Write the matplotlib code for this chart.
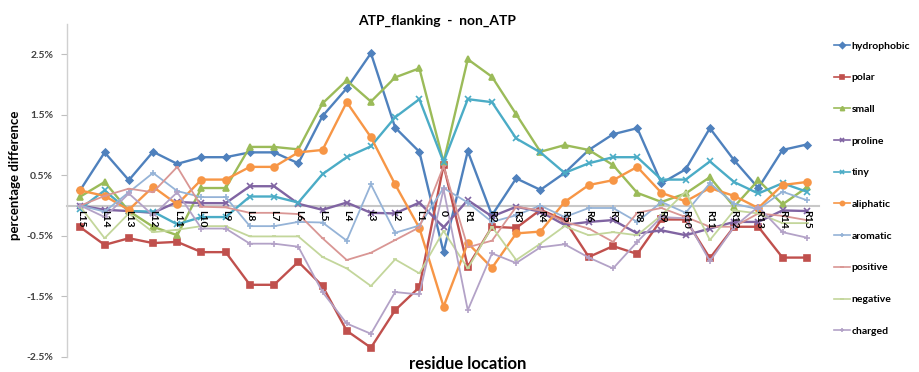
import matplotlib
matplotlib.use("Agg")
import matplotlib.pyplot as plt
from matplotlib.ticker import FuncFormatter

positions = ["L15", "L14", "L13", "L12", "L11", "L10", "L9", "L8", "L7", "L6", "L5", "L4", "L3", "L2", "L1",
             "0", "R1", "R2", "R3", "R4", "R5", "R6", "R7", "R8", "R9", "R10", "R11", "R12", "R13", "R14", "R15"]

hydrophobic = [0.26, 0.88, 0.42, 0.89, 0.69, 0.80, 0.80, 0.88, 0.88, 0.70, 1.48, 1.94, 2.52, 1.29, 0.89,
               -0.77, 0.90, -0.16, 0.45, 0.26, 0.54, 0.92, 1.18, 1.28, 0.37, 0.60, 1.28, 0.75, 0.29, 0.92, 1.01]
polar = [-0.36, -0.65, -0.54, -0.62, -0.60, -0.77, -0.77, -1.31, -1.31, -0.93, -1.33, -2.07, -2.35, -1.73, -1.35,
         0.67, -1.01, -0.35, -0.37, -0.07, -0.24, -0.85, -0.67, -0.80, -0.23, -0.23, -0.87, -0.35, -0.35, -0.86, -0.86]
small = [0.15, 0.39, -0.09, -0.35, -0.49, 0.29, 0.29, 0.97, 0.97, 0.93, 1.69, 2.07, 1.72, 2.12, 2.27,
         0.72, 2.42, 2.13, 1.51, 0.89, 1.00, 0.92, 0.67, 0.21, 0.06, 0.20, 0.47, -0.02, 0.42, 0.02, 0.30]
proline = [0.0, -0.07, -0.09, -0.12, 0.06, 0.04, 0.04, 0.32, 0.32, 0.03, -0.07, 0.05, -0.12, -0.13, 0.05,
           -0.36, 0.09, -0.18, -0.02, -0.10, -0.32, -0.27, -0.24, -0.46, -0.41, -0.49, -0.38, -0.27, -0.27, -0.08, -0.09]
tiny = [-0.05, 0.25, -0.09, -0.10, -0.31, -0.19, -0.19, 0.15, 0.15, 0.05, 0.52, 0.80, 0.98, 1.46, 1.76,
        0.72, 1.76, 1.71, 1.11, 0.88, 0.54, 0.70, 0.80, 0.80, 0.43, 0.43, 0.73, 0.39, 0.20, 0.37, 0.23]
aliphatic = [0.25, 0.16, -0.07, 0.31, 0.02, 0.43, 0.43, 0.64, 0.64, 0.88, 0.92, 1.71, 1.13, 0.35, -0.37,
             -1.67, -0.62, -1.03, -0.46, -0.43, 0.06, 0.34, 0.42, 0.64, 0.21, 0.07, 0.29, 0.16, -0.04, 0.34, 0.39]
aromatic = [0.0, -0.10, 0.22, 0.54, 0.24, 0.14, 0.14, -0.34, -0.34, -0.27, -0.28, -0.58, 0.35, -0.45, -0.33,
            0.29, 0.05, -0.27, -0.16, 0.0, -0.19, -0.04, -0.04, -0.27, 0.06, -0.12, 0.37, 0.03, -0.06, 0.23, 0.09]
positive = [0.0, 0.16, 0.28, 0.22, 0.64, -0.02, -0.03, -0.12, -0.12, -0.14, -0.54, -0.90, -0.78, -0.57, -0.36,
            0.65, -0.69, -0.58, -0.02, -0.08, -0.27, -0.38, -0.60, -0.12, -0.04, -0.19, -0.35, -0.35, -0.13, -0.17, -0.24]
negative = [-0.02, -0.54, -0.13, -0.44, -0.40, -0.34, -0.34, -0.51, -0.51, -0.51, -0.85, -1.04, -1.33, -0.89, -1.12,
            -0.42, -1.04, -0.35, -0.90, -0.63, -0.34, -0.49, -0.44, -0.49, -0.16, 0.23, -0.57, -0.08, -0.13, -0.29, -0.29]
charged = [0.0, -0.19, 0.20, -0.16, 0.22, -0.38, -0.38, -0.63, -0.63, -0.68, -1.43, -1.95, -2.12, -1.43, -1.47,
           0.27, -1.73, -0.79, -0.95, -0.69, -0.64, -0.86, -1.04, -0.60, -0.19, -0.21, -0.92, -0.35, -0.02, -0.44, -0.53]

series_names = ["hydrophobic", "polar", "small", "proline", "tiny", "aliphatic",
                "aromatic", "positive", "negative", "charged"]
series_values = [hydrophobic, polar, small, proline, tiny, aliphatic,
                 aromatic, positive, negative, charged]
y_ticks = [-2.5, -1.5, -0.5, 0.5, 1.5, 2.5]

colors = ["#4F81BD", "#C0504D", "#9BBB59", "#8064A2", "#4BACC6", "#F79646",
          "#95B3D7", "#D99694", "#C3D69B", "#B3A2C7"]
markers = ["D", "s", "^", "x", "x", "o", "+", "_", "_", "+"]
msizes = [3.5, 4.5, 4.5, 4, 4, 5, 4, 3, 3, 4]
lws = [1.7, 1.7, 1.7, 1.7, 1.7, 1.7, 1.3, 1.3, 1.3, 1.3]

plt.rcParams['font.family'] = ['Lato', 'DejaVu Sans']
plt.rcParams['font.weight'] = 'bold'

fig = plt.figure(figsize=(9.19, 3.72), dpi=100)
ax = fig.add_axes([0.073, 0.041, 0.818, 0.894])

x = list(range(len(positions)))
for name, vals, c, m, ms, lw in zip(series_names, series_values, colors, markers, msizes, lws):
    ax.plot(x, vals, color=c, marker=m, markersize=ms, linewidth=lw, label=name,
            markeredgewidth=1.2, zorder=3)

ax.set_xlim(-0.55, 30.5)
ax.set_ylim(-2.5, 3.0)
ax.set_yticks(y_ticks)
ax.yaxis.set_major_formatter(FuncFormatter(lambda v, p: f"{v:.1f}%"))
ax.tick_params(axis='y', labelsize=7.5, length=4, color="#BFBFBF", pad=6, labelcolor="#404040")

ax.spines['top'].set_visible(False)
ax.spines['right'].set_visible(False)
ax.spines['left'].set_color("#D0D0D0")
ax.spines['left'].set_linewidth(1.0)
ax.spines['bottom'].set_position(('data', 0))
ax.spines['bottom'].set_color("#C8C8C8")
ax.spines['bottom'].set_linewidth(1.5)
ax.spines['bottom'].set_zorder(1)

ax.set_xticks(x)
ax.set_xticklabels(positions, rotation=270, fontsize=7.5, fontweight='bold', color='black')
ax.tick_params(axis='x', length=0, pad=3)
ax.xaxis.set_zorder(5)

fig.text(0.475, 0.945, "ATP_flanking  -  non_ATP", ha='center', va='center', fontsize=10, fontweight='bold')
fig.text(0.016, 0.53, "percentage difference", rotation=90, ha='center', va='center',
         fontsize=9.5, fontweight='bold')
fig.text(0.509, 0.022, "residue location", ha='center', va='center', fontsize=12, fontweight='bold')

leg = fig.legend(loc='upper left', bbox_to_anchor=(0.903, 0.90), frameon=False, fontsize=7.5,
                 labelspacing=2.15, handlelength=1.5, handletextpad=0.2, borderaxespad=0)
for h in leg.legend_handles:
    h.set_markersize(3)
    h.set_linewidth(1.2)

fig.savefig("out.png", dpi=100)
